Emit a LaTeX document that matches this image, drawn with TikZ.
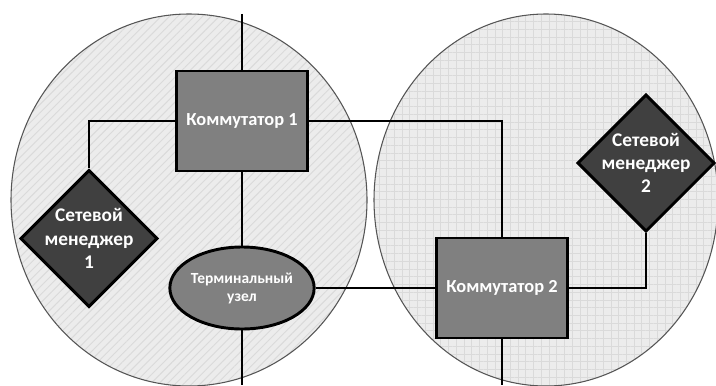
\documentclass[tikz,border=0pt]{standalone}
\usepackage{fontspec}
\setmainfont{Carlito}
\usetikzlibrary{shapes.geometric, patterns.meta, positioning}
\definecolor{zonebg}{RGB}{236,236,236}
\definecolor{zonehatch}{RGB}{218,218,218}
\definecolor{zoneedge}{RGB}{85,85,85}
\definecolor{switchfill}{RGB}{128,128,128}
\definecolor{managerfill}{RGB}{64,64,64}
\tikzset{
  zone/.style={draw=zoneedge, line width=0.8pt, preaction={fill=zonebg}},
  switch/.style={rectangle, draw=black, line width=2.2pt, fill=switchfill,
                 minimum width=98pt, minimum height=75pt, inner sep=0pt,
                 text=white, font=\fontsize{13.8}{16}\selectfont\bfseries},
  manager/.style={diamond, draw=black, line width=2.2pt, fill=managerfill,
                  minimum width=103pt, minimum height=103pt, inner sep=0pt},
  managertext/.style={text=white, align=center,
                      font=\fontsize{14.5}{17.5}\selectfont\bfseries},
  terminal/.style={ellipse, draw=black, line width=2.2pt, fill=switchfill,
                   minimum width=88pt, minimum height=61.5pt, inner sep=0pt,
                   text=white, align=center,
                   font=\fontsize{11.6}{13.5}\selectfont\bfseries},
  link/.style={line width=2pt, draw=black},
}

\begin{document}
\begin{tikzpicture}[x=0.75pt, y=-0.75pt]
  \useasboundingbox (0,0) rectangle (716,385);

  % Two network segments
  \draw[zone, pattern={Lines[angle=45, distance=4.4pt, line width=0.7pt]},
        pattern color=zonehatch] (189,200) ellipse [x radius=178, y radius=186];
  \draw[zone, pattern={Hatch[angle=0, distance=5.8pt, line width=0.6pt]},
        pattern color=zonehatch] (546,200) ellipse [x radius=172, y radius=186];

  % Devices
  \node[switch] (sw1) at (242,121) {Коммутатор 1};
  \node[switch] (sw2) at (502,288) {Коммутатор 2};
  \node[manager, label={[managertext]center:Сетевой\\менеджер\\1}] (nm1) at (89,238.5) {};
  \node[manager, label={[managertext]center:Сетевой\\менеджер\\2}] (nm2) at (646,163) {};
  \node[terminal] (term) at (242,288) {Терминальный\\узел};

  % Loose ends leaving the picture
  \coordinate (up1) at (242,14);
  \coordinate (down1) at (242,385);
  \coordinate (down2) at (502,385);

  % Links
  \draw[link] (up1) -- (sw1.north);
  \draw[link] (sw1.west) -| (nm1.north);
  \draw[link] (sw1.east) -| (sw2.north);
  \draw[link] (sw1.south) -- (term.north);
  \draw[link] (term.east) -- (sw2.west);
  \draw[link] (term.south) -- (down1);
  \draw[link] (sw2.east) -| (nm2.south);
  \draw[link] (sw2.south) -- (down2);
\end{tikzpicture}
\end{document}
